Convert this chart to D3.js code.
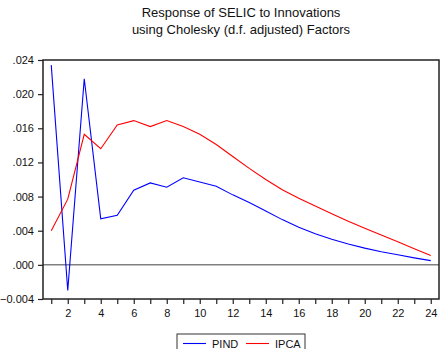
<!DOCTYPE html>
<html>
<head>
<meta charset="utf-8">
<script src="https://cdn.jsdelivr.net/npm/d3@7"></script>
<style>
  html, body { margin: 0; padding: 0; background: #fff; }
  svg { display: block; font-family: "Liberation Sans", Arial, sans-serif; }
</style>
</head>
<body>
<svg id="chart" width="441" height="349"></svg>
<script>
// Impulse responses of SELIC, periods 1..24
const periods = d3.range(1, 25);
const pind = [0.0234, -0.0030, 0.0218, 0.0054, 0.0058, 0.00875, 0.0096, 0.0091, 0.0102, 0.0097,
              0.0092, 0.0082, 0.0073, 0.0063, 0.0053, 0.0044, 0.00365, 0.0030, 0.00244, 0.00196,
              0.00153, 0.00118, 0.00082, 0.0005];
const ipca = [0.0040, 0.0077, 0.0153, 0.0136, 0.0164, 0.0169, 0.0162, 0.0169, 0.0162, 0.0153,
              0.0141, 0.0127, 0.0113, 0.0100, 0.0088, 0.0078, 0.0069, 0.0060, 0.0051, 0.0043,
              0.0035, 0.0027, 0.0019, 0.0011];
const yTicks = [-0.004, 0, 0.004, 0.008, 0.012, 0.016, 0.020, 0.024];
const xLabels = [2, 4, 6, 8, 10, 12, 14, 16, 18, 20, 22, 24];
const seriesNames = ["PIND", "IPCA"];
const seriesColors = ["#0000ff", "#ff0000"];
const titleLines = ["Response of SELIC to Innovations", "using Cholesky (d.f. adjusted) Factors"];

const svg = d3.select("#chart");
const plotLeft = 43, plotRight = 439, plotTop = 60, plotBottom = 299;

const x = d3.scaleLinear().domain([0.5, 24.5]).range([plotLeft, plotRight]);
const y = d3.scaleLinear().domain([-0.004, 0.024]).range([plotBottom, plotTop]);

// title
svg.append("g").selectAll("text").data(titleLines).join("text")
  .attr("x", (plotLeft + plotRight) / 2)
  .attr("y", (d, i) => 17 + i * 17)
  .attr("text-anchor", "middle")
  .attr("font-size", 13)
  .attr("fill", "#111")
  .text(d => d);

// zero line
svg.append("line")
  .attr("x1", plotLeft).attr("x2", plotRight)
  .attr("y1", y(0)).attr("y2", y(0))
  .attr("stroke", "#808080").attr("stroke-width", 1.5);

// series
const line = d3.line().x((d, i) => x(periods[i])).y(d => y(d));
[pind, ipca].forEach((s, k) => {
  svg.append("path")
    .datum(s)
    .attr("d", line)
    .attr("fill", "none")
    .attr("stroke", seriesColors[k])
    .attr("stroke-width", 1.1);
});

// frame
svg.append("rect")
  .attr("x", plotLeft).attr("y", plotTop)
  .attr("width", plotRight - plotLeft).attr("height", plotBottom - plotTop)
  .attr("fill", "none").attr("stroke", "#222").attr("stroke-width", 1.5);

// y axis
const yAxis = svg.append("g")
  .attr("transform", `translate(${plotLeft},0)`)
  .call(d3.axisLeft(y).tickValues(yTicks).tickSize(5).tickPadding(4)
    .tickFormat(d => d3.format(".3f")(d).replace(/^(-?)0\./, "$1.")));
yAxis.select(".domain").remove();
yAxis.selectAll("line").attr("stroke", "#222").attr("stroke-width", 1.2);
yAxis.selectAll("text").attr("font-size", 11).attr("fill", "#111")
  .attr("font-family", "'Liberation Sans', Arial, sans-serif");

// x axis: a tick every period, labels on even periods
const xAxis = svg.append("g")
  .attr("transform", `translate(0,${plotBottom})`)
  .call(d3.axisBottom(x).tickValues(periods).tickSize(5).tickPadding(5)
    .tickFormat(d => xLabels.includes(d) ? d : ""));
xAxis.select(".domain").remove();
xAxis.selectAll("line").attr("stroke", "#222").attr("stroke-width", 1.2);
xAxis.selectAll("text").attr("font-size", 11).attr("fill", "#111")
  .attr("font-family", "'Liberation Sans', Arial, sans-serif");

// legend
const lg = svg.append("g");
lg.append("rect")
  .attr("x", 177).attr("y", 334).attr("width", 128).attr("height", 30)
  .attr("fill", "#fff").attr("stroke", "#333").attr("stroke-width", 1);
const items = lg.selectAll("g.item").data(seriesNames).join("g")
  .attr("class", "item")
  .attr("transform", (d, i) => `translate(${183 + i * 63},0)`);
items.append("line")
  .attr("x1", 0).attr("x2", 23).attr("y1", 343.5).attr("y2", 343.5)
  .attr("stroke", (d, i) => seriesColors[i]).attr("stroke-width", 1.1);
items.append("text")
  .attr("x", 29).attr("y", 347.5)
  .attr("font-size", 11).attr("fill", "#111")
  .text(d => d);
</script>
</body>
</html>
